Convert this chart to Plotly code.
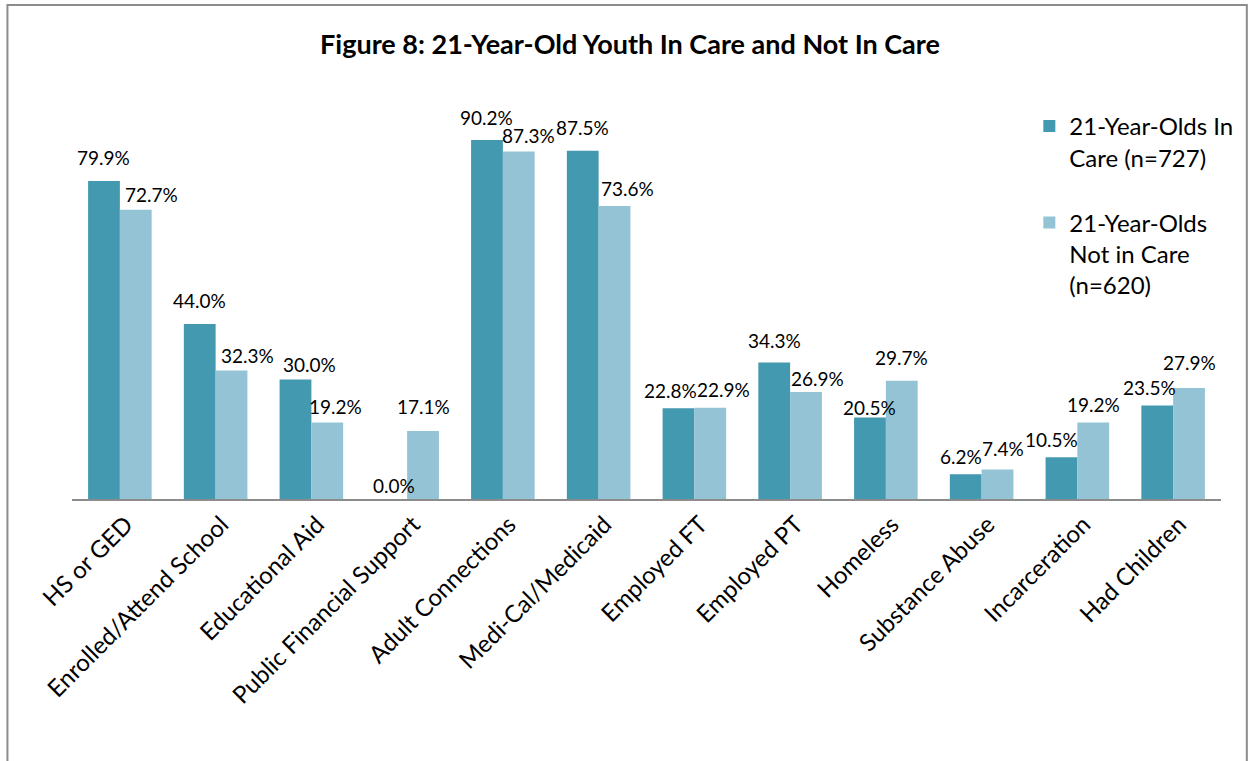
import plotly.graph_objects as go

categories = ["HS or GED", "Enrolled/Attend School", "Educational Aid", "Public Financial Support",
              "Adult Connections", "Medi-Cal/Medicaid", "Employed FT", "Employed PT", "Homeless",
              "Substance Abuse", "Incarceration", "Had Children"]
in_care = [79.9, 44.0, 30.0, 0.0, 90.2, 87.5, 22.8, 34.3, 20.5, 6.2, 10.5, 23.5]
not_in_care = [72.7, 32.3, 19.2, 17.1, 87.3, 73.6, 22.9, 26.9, 29.7, 7.4, 19.2, 27.9]
series_names = ["21-Year-Olds In<br>Care (n=727)", "21-Year-Olds<br>Not in Care<br>(n=620)"]
colors = ["#4399B0", "#93C3D4"]

# label nudges (pixels, relative to the default label spot above each bar), mimicking the original layout
in_care_label_dx = [0, 0, 14, 3, 0, 0, -8, 0, 0, -5, -10, -8]
in_care_label_dy = [0, -1, -9, -10, -1, -1, -6, -2, -14, -6, -6, -6]
not_in_care_label_dx = [16, 16, 8, 0, 10, 13, 13, 11, 0, 5, 0, 0]
not_in_care_label_dy = [-9, -9, -8, 0, -8, -6, -6, -11, -1, -3, -6, 1]

FONT = "Lato, 'Open Sans', sans-serif"
W, H = 1250, 761
ML, MR, MT, MB = 72, 21, 101, 262
pw = W - ML - MR
ph = H - MT - MB
HALF_BAR = 16
LABEL_RISE = 24


def px_x(p):
    return (p - ML) / pw


def px_y(p):
    return (H - MB - p) / ph


fig = go.Figure()
for i, (name, vals, col) in enumerate(zip(series_names, [in_care, not_in_care], colors)):
    fig.add_trace(go.Bar(x=categories, y=vals, name=name, legendgroup=f"g{i}",
                         marker=dict(color=col, line=dict(width=0))))

annotations = []
for side, vals, dxs, dys in [(-HALF_BAR, in_care, in_care_label_dx, in_care_label_dy),
                             (HALF_BAR, not_in_care, not_in_care_label_dx, not_in_care_label_dy)]:
    for c, v, dx, dy in zip(categories, vals, dxs, dys):
        annotations.append(dict(x=c, y=v, text=f"{v:.1f}%", showarrow=False, xref="x", yref="y",
                                xshift=side + dx, yshift=LABEL_RISE + dy, yanchor="middle",
                                font=dict(family=FONT, size=19, color="#000")))

fig.add_shape(type="rect", xref="paper", yref="paper",
              x0=px_x(7), x1=px_x(W + 5), y0=px_y(H + 5), y1=px_y(5),
              line=dict(color="#8C8C8C", width=2), fillcolor="rgba(0,0,0,0)", layer="above")

fig.update_layout(
    width=W, height=H,
    margin=dict(l=ML, r=MR, t=MT, b=MB, pad=0),
    paper_bgcolor="white", plot_bgcolor="white",
    barmode="group", bargap=0.336, bargroupgap=0,
    title=dict(text="<b>Figure 8: 21-Year-Old Youth In Care and Not In Care</b>", x=0.504, xanchor="center",
               y=1 - 45 / H, yanchor="middle", font=dict(family=FONT, size=27, color="#000")),
    font=dict(family=FONT, color="#000"),
    showlegend=True,
    legend=dict(x=px_x(1036), y=px_y(104), xanchor="left", yanchor="top", valign="top",
                font=dict(family=FONT, size=24, color="#000"), bgcolor="rgba(0,0,0,0)",
                itemsizing="constant", tracegroupgap=31),
    annotations=annotations,
    xaxis=dict(tickangle=-45, tickfont=dict(family=FONT, size=24, color="#000"), showline=True,
               linecolor="#8C8C8C", linewidth=2, ticks="", showgrid=False, ticklabelshift=6),
    yaxis=dict(range=[0, 100], visible=False, showgrid=False, zeroline=False),
)

fig.write_html("out.html")
